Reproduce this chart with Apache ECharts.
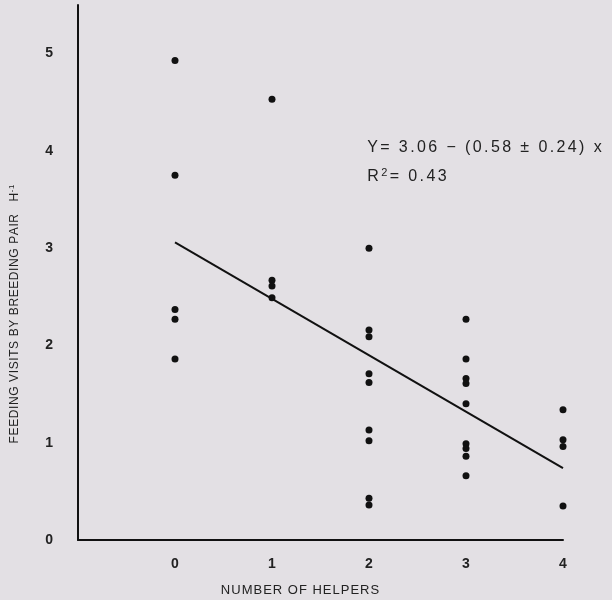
<!DOCTYPE html>
<html><head><meta charset="utf-8">
<script src="https://cdn.jsdelivr.net/npm/echarts@6/dist/echarts.min.js"></script>
<style>html,body{margin:0;padding:0;background:#e3e0e4;}#c{width:612px;height:600px;}</style>
</head><body><div id="c"></div>
<script>
var helpers0 = [4.93, 3.75, 2.37, 2.27, 1.86];
var helpers1 = [4.53, 2.67, 2.61, 2.49];
var helpers2 = [3.00, 2.16, 2.09, 1.71, 1.62, 1.13, 1.02, 0.43, 0.36];
var helpers3 = [2.27, 1.86, 1.66, 1.61, 1.40, 0.99, 0.94, 0.86, 0.66];
var helpers4 = [1.34, 1.03, 0.96, 0.35];
var xTicks = [0, 1, 2, 3, 4];
var yTicks = [0, 1, 2, 3, 4, 5];
var fitX = [0, 4];
var fitY = [3.06, 0.74];
var eqText = 'Y= 3.06 \u2212 (0.58 \u00B1 0.24) x';
var r2Text = 'R{sup|2}= 0.43';
var xName = 'NUMBER OF HELPERS';
var yName = 'FEEDING VISITS BY BREEDING PAIR   H{sup|-1}';

var groups = [helpers0, helpers1, helpers2, helpers3, helpers4];
var pts = [];
groups.forEach(function(g, i){ g.forEach(function(v){ pts.push([xTicks[i], v]); }); });

// spread characters into rich tokens so the text gets letter spacing
function spaced(str){
  var out = '', re = /\{sup\|([^}]*)\}/g, last = 0, m;
  function add(s, k){ for (var i = 0; i < s.length; i++) out += '{' + k + '|' + s[i] + '}'; }
  while ((m = re.exec(str))) { add(str.slice(last, m.index), 'n'); add(m[1], 'sup'); last = re.lastIndex; }
  add(str.slice(last), 'n');
  return out;
}

var font = 'Liberation Sans';
function richStyles(size, supSize, pad, raise){
  return {
    n: {fontSize: size, fontFamily: font, fill: '#222', padding: [0, pad, 0, pad]},
    sup: {fontSize: supSize, fontFamily: font, fill: '#222', padding: [0, pad, raise, pad]}
  };
}

var chart = echarts.init(document.getElementById('c'));
chart.setOption({
  backgroundColor: '#e3e0e4',
  animation: false,
  grid: {left: 78, right: 49, top: 5, bottom: 60},
  xAxis: {
    type: 'value', min: -1, max: 4, interval: 1,
    axisLine: {show: true, onZero: false, lineStyle: {color: '#111', width: 2}},
    axisTick: {show: false}, splitLine: {show: false},
    axisLabel: {margin: 17, color: '#222', fontSize: 14, fontWeight: 'bold', fontFamily: font,
      formatter: function(v){ return xTicks.indexOf(v) >= 0 ? String(v) : ''; }}
  },
  yAxis: {
    type: 'value', min: 0, max: 5.5, interval: 1,
    axisLine: {show: true, onZero: false, lineStyle: {color: '#111', width: 2}},
    axisTick: {show: false}, splitLine: {show: false},
    axisLabel: {margin: 25, color: '#222', fontSize: 14, fontWeight: 'bold', fontFamily: font,
      formatter: function(v){ return yTicks.indexOf(v) >= 0 ? String(v) : ''; }}
  },
  series: [
    {type: 'scatter', data: pts, symbolSize: 7, itemStyle: {color: '#111', opacity: 1}},
    {type: 'line', data: [[fitX[0], fitY[0]], [fitX[1], fitY[1]]], symbol: 'none',
     lineStyle: {color: '#111', width: 2}}
  ],
  graphic: [
    {type: 'text', x: 366, y: 148, style: {text: spaced(eqText), verticalAlign: 'middle', rich: richStyles(16, 11, 1.2, 9)}},
    {type: 'text', x: 366, y: 177, style: {text: spaced(r2Text), verticalAlign: 'middle', rich: richStyles(16, 11, 1.2, 9)}},
    {type: 'text', x: 300, y: 590, style: {text: spaced(xName), align: 'center', verticalAlign: 'middle', rich: richStyles(13, 9, 0.5, 7)}},
    {type: 'text', x: 15, y: 314, rotation: Math.PI/2, style: {text: spaced(yName), align: 'center', verticalAlign: 'middle', rich: richStyles(12, 8, 0.3, 7)}}
  ]
});
</script></body></html>
